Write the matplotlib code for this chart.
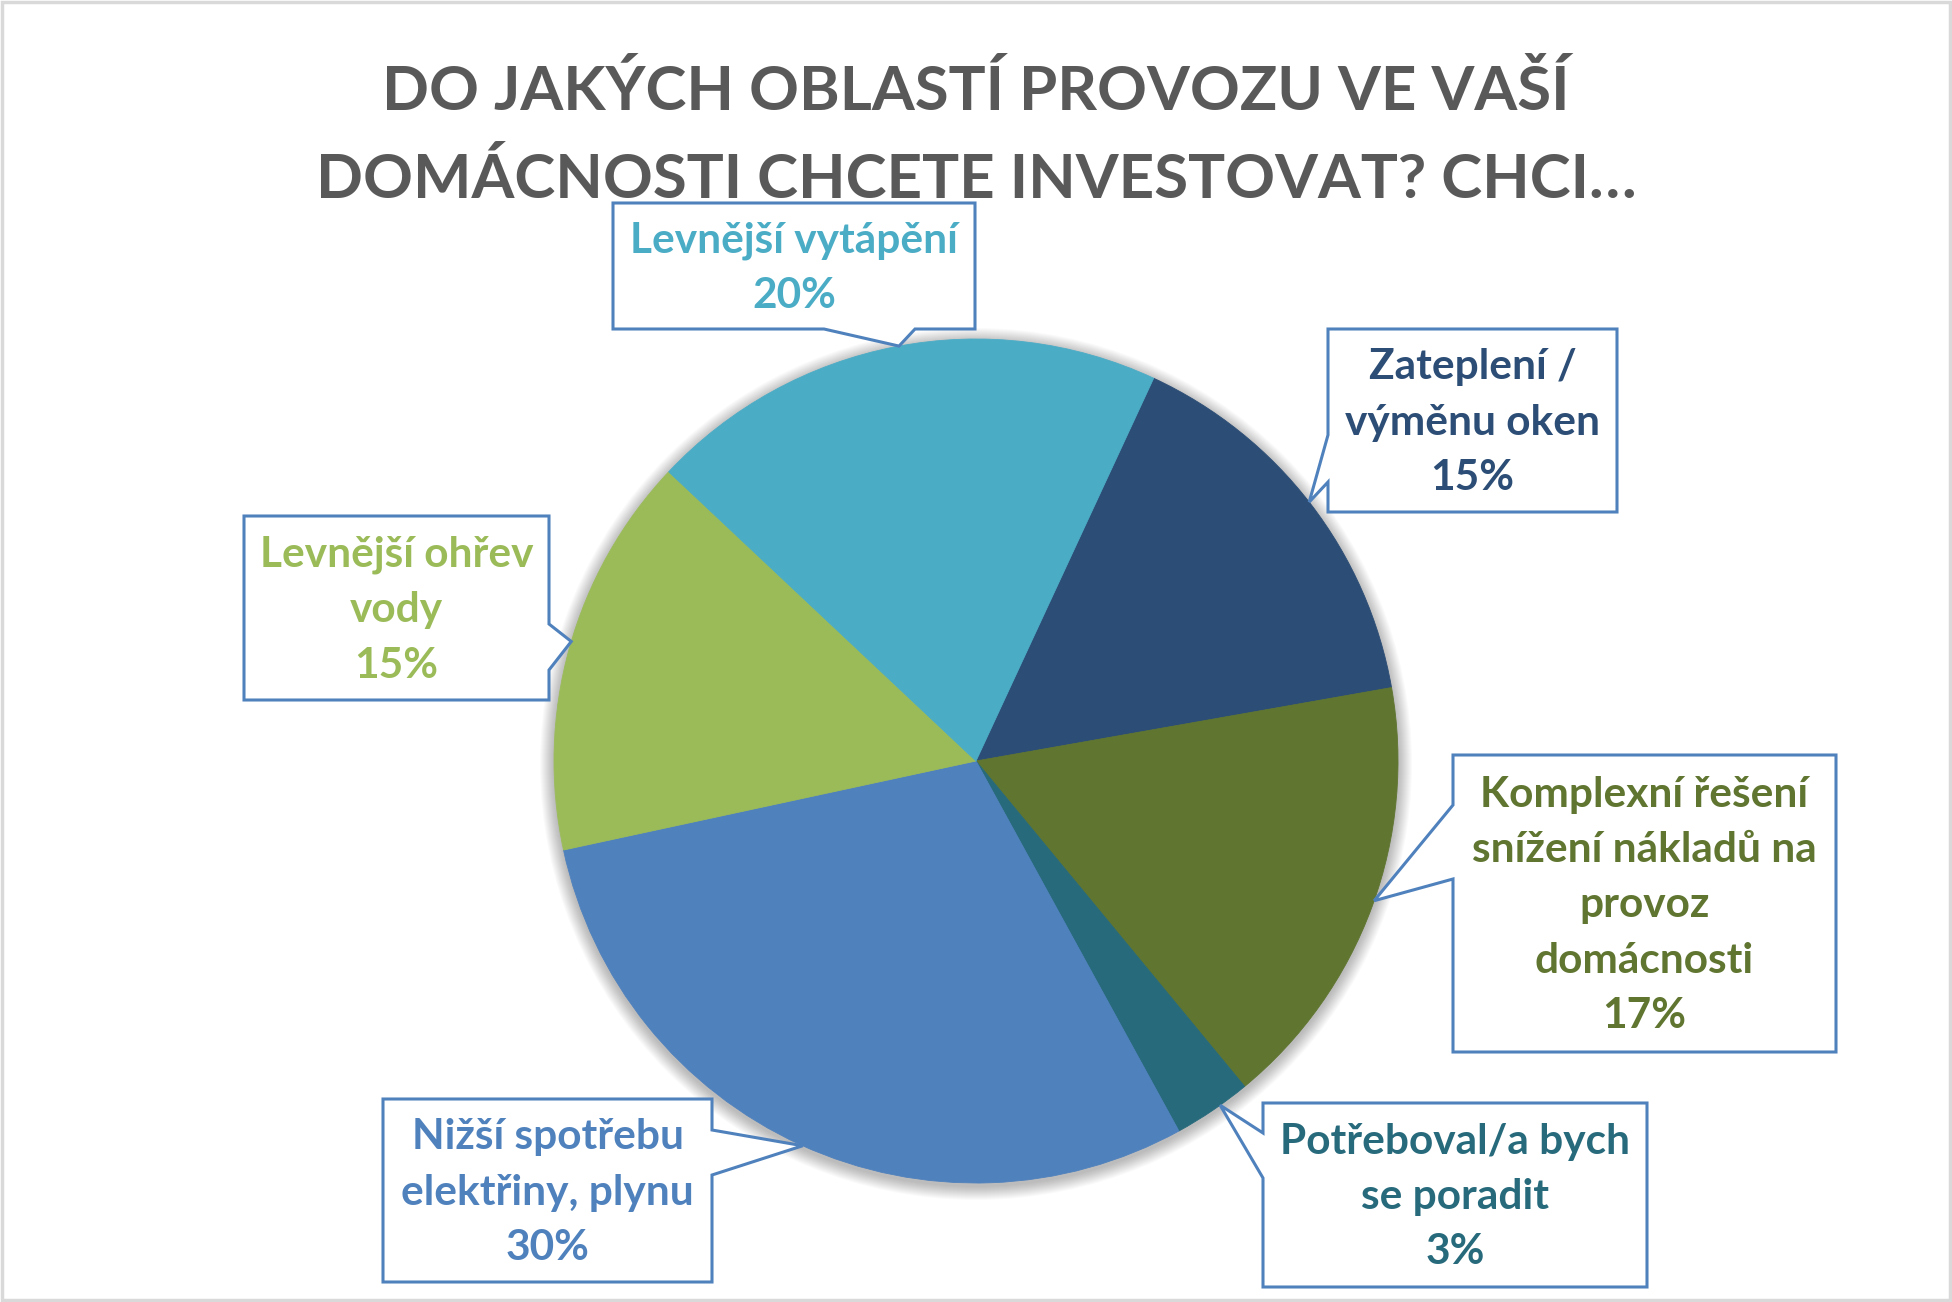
import numpy as np
import matplotlib.pyplot as plt
from matplotlib.patches import Polygon, Circle, Rectangle

W, H = 1952, 1302

categories = ['Zateplení /\nvýměnu oken',
              'Komplexní řešení\nsnížení nákladů na\nprovoz\ndomácnosti',
              'Potřeboval/a bych\nse poradit',
              'Nižší spotřebu\nelektřiny, plynu',
              'Levnější ohřev\nvody',
              'Levnější vytápění']
values = [15.3, 16.8, 3.0, 29.6, 15.4, 19.9]
colors = ['#2C4D75', '#5F7530', '#276A7C', '#4F81BD', '#9BBB59', '#4BACC6']
title_lines = ['DO JAKÝCH OBLASTÍ PROVOZU VE VAŠÍ',
               'DOMÁCNOSTI CHCETE INVESTOVAT? CHCI…']

# callout boxes in picture pixels (y going down): left, top, right, bottom
callouts = [
    dict(box=(1328, 329, 1617, 512), side='left', base=(435, 482), tip=(1308, 503)),
    dict(box=(1453, 755, 1836, 1052), side='left', base=(805, 879), tip=(1375, 901)),
    dict(box=(1263, 1103, 1647, 1287), side='left', base=(1133, 1178), tip=(1220, 1105)),
    dict(box=(383, 1099, 712, 1282), side='right', base=(1130, 1175), tip=(803, 1145)),
    dict(box=(244, 516, 549, 700), side='right', base=(624, 670), tip=(573, 642)),
    dict(box=(613, 203, 975, 329), side='bottom', base=(824, 915), tip=(899, 346)),
]

cx, cy, r = 976, 761, 422
FONT = ['Lato', 'DejaVu Sans']
EDGE = '#4F81BD'


def callout_poly(box, side, base, tip):
    l, t, rr, b = box
    a1, a2 = base
    if side == 'left':
        pts = [(l, t), (rr, t), (rr, b), (l, b), (l, a2), tip, (l, a1)]
    elif side == 'right':
        pts = [(l, t), (rr, t), (rr, a1), tip, (rr, a2), (rr, b), (l, b)]
    else:
        pts = [(l, t), (rr, t), (rr, b), (a2, b), tip, (a1, b), (l, b)]
    return [(x, H - y) for x, y in pts]


fig = plt.figure(figsize=(W / 100, H / 100), dpi=100)
ax = fig.add_axes([0, 0, 1, 1])

# soft shadow under the pie
for k in range(1, 15):
    ax.add_patch(Circle((cx, H - cy - 3), r + k, color='black', alpha=0.018,
                        lw=0, zorder=1))

wedges, _ = ax.pie(values, colors=colors, startangle=65.1, counterclock=False,
                   center=(cx, H - cy), radius=r,
                   wedgeprops=dict(linewidth=0.6, zorder=2))
for w in wedges:
    w.set_edgecolor(w.get_facecolor())

pcts = [round(v / sum(values) * 100) for v in values]
for cat, pct, col, c in zip(categories, pcts, colors, callouts):
    tx, ty = c['tip']
    ang = np.arctan2(ty - cy, tx - cx)
    tip = (cx + r * np.cos(ang), cy + r * np.sin(ang))
    poly = Polygon(callout_poly(c['box'], c['side'], c['base'], tip), closed=True,
                   facecolor='white', edgecolor=EDGE, linewidth=2.2, zorder=4,
                   joinstyle='miter')
    ax.add_patch(poly)
    l, t, rr, b = c['box']
    ax.text((l + rr) / 2, H - (t + b) / 2 - 2, f'{cat}\n{pct}%', ha='center',
            va='center', color=col, fontsize=30.5, fontweight='bold',
            family=FONT, linespacing=1.56, zorder=5)

ax.text(W / 2, H - 110, title_lines[0], ha='center', va='baseline',
        color='#595959', fontsize=44.5, fontweight='bold', family=FONT)
ax.text(W / 2, H - 198, title_lines[1], ha='center', va='baseline',
        color='#595959', fontsize=44.5, fontweight='bold', family=FONT)

ax.add_patch(Rectangle((1.75, 1.75), W - 3.5, H - 3.5, fill=False,
                       edgecolor='#D9D9D9', linewidth=2.5, zorder=6))

ax.set_xlim(0, W)
ax.set_ylim(0, H)
ax.axis('off')
fig.savefig('out.png', dpi=100)
